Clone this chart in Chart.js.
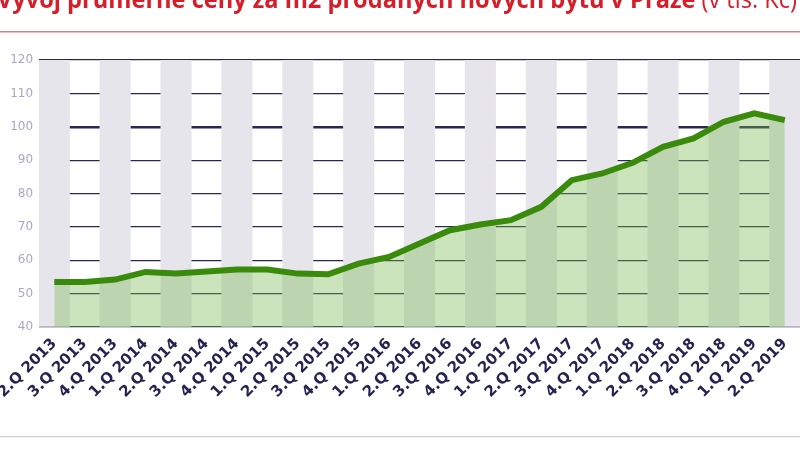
<!DOCTYPE html><html><head><meta charset="utf-8">
<script src="https://cdn.jsdelivr.net/npm/chart.js@4"></script>
<style>body{margin:0;background:#fff}#c{display:block}</style></head><body>
<canvas id="c" width="800" height="449"></canvas>
<script>
const categories=["2.Q 2013","3.Q 2013","4.Q 2013","1.Q 2014","2.Q 2014","3.Q 2014","4.Q 2014","1.Q 2015","2.Q 2015","3.Q 2015","4.Q 2015","1.Q 2016","2.Q 2016","3.Q 2016","4.Q 2016","1.Q 2017","2.Q 2017","3.Q 2017","4.Q 2017","1.Q 2018","2.Q 2018","3.Q 2018","4.Q 2018","1.Q 2019","2.Q 2019"];
const prices=[53.5,53.5,54.2,56.5,56,56.6,57.2,57.2,56,55.8,59,61,65,69,70.7,72,76,84,86,89.2,94,96.5,101.5,104,102];
const bandTop=categories.map(()=>120);
const yTicks=[40,50,60,70,80,90,100,110,120];
const deco={id:'deco',beforeDraw(ch){const c=ch.ctx;c.save();
 c.textBaseline='alphabetic';c.fillStyle='#d41f2b';
 const t1="Vývoj průměrné ceny za m2 prodaných nových bytů v Praze",t2=" (v tis. Kč)";
 c.font='bold 25px "Open Sans"';const w1=c.measureText(t1).width;c.font='25px "Open Sans"';const w2=c.measureText(t2).width;
 const s=800/(w1+w2);c.translate(-3,8);c.scale(s,1);
 c.font='bold 25px "Open Sans"';c.fillText(t1,0,0);c.font='25px "Open Sans"';c.fillText(t2,w1,0);
 c.setTransform(1,0,0,1,0,0);
 c.fillStyle='#e07a80';c.fillRect(0,31,800,1.5);
 c.fillStyle='#c8c6da';c.fillRect(0,436,800,1.2);
 c.restore();}};
new Chart(document.getElementById('c'),{data:{labels:categories,datasets:[
 {type:'line',data:prices,borderColor:'#3a8a0c',borderWidth:6,pointRadius:0,tension:0,fill:'start',backgroundColor:'rgba(120,185,80,0.38)',order:1},
 {type:'bar',data:bandTop,backgroundColor:categories.map((_,i)=>i%2===0?'#e7e5ec':'rgba(0,0,0,0)'),barPercentage:1,categoryPercentage:1,order:2,base:40}
]},options:{responsive:false,animation:false,layout:{padding:{top:60,right:0,left:0,bottom:0}},
 plugins:{legend:{display:false},tooltip:{enabled:false}},
 scales:{x:{grid:{display:false},border:{display:false},afterFit(a){a.height=122},
   ticks:{autoSkip:false,minRotation:45,maxRotation:45,color:'#25234f',font:{family:'DejaVu Sans',size:15,weight:'bold'},padding:0}},
  y:{min:40,max:120,afterFit(a){a.width=32},afterBuildTicks(a){a.ticks=yTicks.map(v=>({value:v}))},
   border:{display:false},grid:{color:'#2a2850',lineWidth:c=>c.tick&&c.tick.value===100?2.5:1.2,drawTicks:false},
   ticks:{color:'#a8a8c0',font:{family:'DejaVu Sans',size:12},padding:6}}}},plugins:[deco]});
</script></body></html>
